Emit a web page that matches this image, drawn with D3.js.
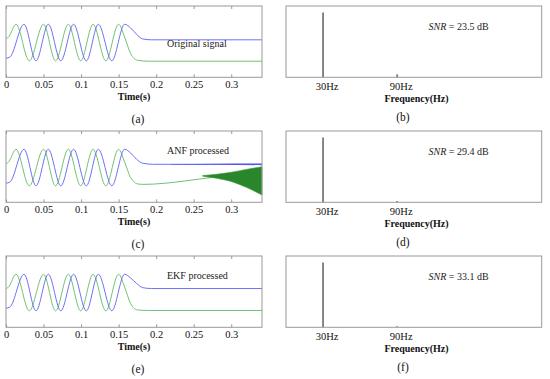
<!DOCTYPE html>
<html>
<head>
<meta charset="utf-8">
<script src="https://d3js.org/d3.v7.min.js"></script>
<style>
  body { margin: 0; background: #fff; }
  text { font-family: "Liberation Serif", "Times New Roman", serif; }
</style>
</head>
<body>
<script>
// ---- data ----
var timeTicks = [0, 0.05, 0.1, 0.15, 0.2, 0.25, 0.3];
var freqTicks = [30, 90];
var leftTags = ["(a)", "(c)", "(e)"];
var rightTags = ["(b)", "(d)", "(f)"];
var signalNames = ["Original signal", "ANF processed", "EKF processed"];
var snrValues = [23.5, 29.4, 33.1];

// common oscillating part (t in s, arbitrary amplitude)
var greenOsc = [[0, 0.18], [0.004, 0.34], [0.0133, 1], [0.031, -1], [0.05, 1], [0.066, -1],
  [0.083, 1], [0.0995, -1], [0.116, 1], [0.133, -1], [0.15, 1]];
var blueOsc = [[0, -0.85], [0.005, -0.8], [0.024, 1], [0.040, -1], [0.0564, 1], [0.073, -1],
  [0.09, 1], [0.107, -1], [0.123, 1], [0.141, -1], [0.158, 1]];

// tails after the signal stops
var greenTails = [
  [[0.158, 0.3], [0.166, -0.6], [0.175, -0.97], [0.19, -1.02], [0.341, -1.02]],
  [[0.158, 0.3], [0.166, -0.55], [0.176, -0.9], [0.182, -0.92], [0.30, -0.45], [0.341, -0.38]],
  [[0.158, 0.3], [0.166, -0.6], [0.175, -0.95], [0.19, -0.98], [0.341, -0.98]]
];
var blueTails = [
  [[0.166, 0.8], [0.174, 0.45], [0.182, 0.2], [0.194, 0.15], [0.341, 0.15]],
  [[0.166, 0.8], [0.174, 0.45], [0.182, 0.24], [0.195, 0.18], [0.341, 0.18]],
  [[0.166, 0.8], [0.174, 0.5], [0.182, 0.27], [0.194, 0.22], [0.341, 0.22]]
];

// ANF divergence band (t, upper, lower)
var anfGreenBand = [[0.262, -0.44, -0.47], [0.28, -0.37, -0.58], [0.30, -0.26, -0.76],
  [0.32, -0.1, -1.08], [0.341, 0.05, -1.5]];
var anfBlueBand = [[0.22, 0.19, 0.17], [0.28, 0.21, 0.15], [0.341, 0.22, 0.13]];

// spectrum peaks (Hz, normalized magnitude) for each panel
var spectra = [
  [[30, 1.0], [90, 0.045]],
  [[30, 1.0], [90, 0.02]],
  [[30, 1.0], [90, 0.015]]
];

var W = 550, H = 379;
var rowStep = 125;
var blue = "#7070f4", green = "#72c272", frameCol = "#9a9a9a";

var svg = d3.select("body").append("svg")
  .attr("width", W).attr("height", H);

var x = d3.scaleLinear().domain([0, 0.341]).range([6, 262]);
var xf = d3.scaleLinear().domain([0, 207]).range([286, 541.7]);

var line = d3.line().curve(d3.curveMonotoneX);

for (var i = 0; i < 3; i++) {
  var pTop = 6 + rowStep * i, pBot = 77.3 + rowStep * i;
  var y = d3.scaleLinear().domain([-1.9, 2.0]).range([pBot, pTop]);
  line.x(function(d) { return x(d[0]); }).y(function(d) { return y(d[1]); });

  var g = svg.append("g");

  // signals
  var gData = greenOsc.concat(greenTails[i]);
  var bData = blueOsc.concat(blueTails[i]);
  g.append("path").attr("d", line(gData))
    .attr("fill", "none").attr("stroke", green).attr("stroke-width", 1);
  g.append("path").attr("d", line(bData))
    .attr("fill", "none").attr("stroke", blue).attr("stroke-width", 1);

  if (i == 1) {
    var area = d3.area().curve(d3.curveMonotoneX)
      .x(function(d) { return x(d[0]); })
      .y0(function(d) { return y(d[2]); })
      .y1(function(d) { return y(d[1]); });
    g.append("path").attr("d", area(anfGreenBand))
      .attr("fill", "#2a862a").attr("stroke", "#3d993d").attr("stroke-width", 0.6);
    g.append("path").attr("d", area(anfBlueBand))
      .attr("fill", "#4848e6").attr("opacity", 0.8);
  }

  // frame
  g.append("rect").attr("x", x(0)).attr("y", pTop)
    .attr("width", x(0.341) - x(0)).attr("height", pBot - pTop)
    .attr("fill", "none").attr("stroke", frameCol).attr("stroke-width", 1);

  var ax = g.append("g").attr("transform", "translate(0," + pBot + ")")
    .call(d3.axisBottom(x).tickValues(timeTicks).tickSizeInner(-3).tickSizeOuter(0)
      .tickPadding(3.5).tickFormat(d3.format("")));
  ax.select(".domain").remove();
  ax.selectAll("line").attr("stroke", frameCol);
  ax.selectAll("text").attr("font-size", 10.5).attr("fill", "#111")
    .attr("font-family", "Liberation Serif");

  var axt = g.append("g").attr("transform", "translate(0," + pTop + ")")
    .call(d3.axisTop(x).tickValues(timeTicks).tickSizeInner(-3).tickSizeOuter(0).tickFormat(""));
  axt.select(".domain").remove();
  axt.selectAll("line").attr("stroke", frameCol);

  g.append("text").attr("x", 167).attr("y", pTop + (i == 0 ? 41 : 22.5))
    .attr("font-size", 10).attr("fill", "#222").text(signalNames[i]);

  g.append("text").attr("x", 134).attr("y", pBot + 22.5)
    .attr("text-anchor", "middle").attr("font-size", 10).attr("font-weight", "bold")
    .attr("fill", "#111").text("Time(s)");

  g.append("text").attr("x", 138).attr("y", pBot + 45.5)
    .attr("text-anchor", "middle").attr("font-size", 11.5).attr("fill", "#111")
    .text(leftTags[i]);

  // ---- spectrum panel ----
  var yf = d3.scaleLinear().domain([0, 1.1]).range([pBot, pTop]);
  var h = svg.append("g");

  h.selectAll("line.stem").data(spectra[i]).enter().append("line")
    .attr("class", "stem")
    .attr("x1", function(d) { return xf(d[0]); }).attr("x2", function(d) { return xf(d[0]); })
    .attr("y1", yf(0)).attr("y2", function(d) { return yf(d[1]); })
    .attr("stroke", "#7a7a7a").attr("stroke-width", 1.8);

  h.append("rect").attr("x", xf(0)).attr("y", pTop)
    .attr("width", xf(207) - xf(0)).attr("height", pBot - pTop)
    .attr("fill", "none").attr("stroke", frameCol).attr("stroke-width", 1);

  var fx = h.append("g").attr("transform", "translate(0," + pBot + ")")
    .call(d3.axisBottom(xf).tickValues(freqTicks).tickSize(0).tickPadding(5.5)
      .tickFormat(function(d) { return d + "Hz"; }));
  fx.select(".domain").remove();
  fx.selectAll("text").attr("font-size", 10.5).attr("fill", "#111").attr("dx", 3.5)
    .attr("font-family", "Liberation Serif");

  h.append("text").attr("x", 416.5).attr("y", pBot + 25)
    .attr("text-anchor", "middle").attr("font-size", 10).attr("font-weight", "bold")
    .attr("fill", "#111").text("Frequency(Hz)");

  h.append("text").attr("x", 403).attr("y", pBot + 43.5)
    .attr("text-anchor", "middle").attr("font-size", 11.5).attr("fill", "#111")
    .text(rightTags[i]);

  var snr = h.append("text").attr("x", 428.5).attr("y", pTop + 23.5)
    .attr("font-size", 10).attr("fill", "#222");
  snr.append("tspan").attr("font-style", "italic").text("SNR");
  snr.append("tspan").text(" = " + snrValues[i].toFixed(1) + " dB");
}
</script>
</body>
</html>
